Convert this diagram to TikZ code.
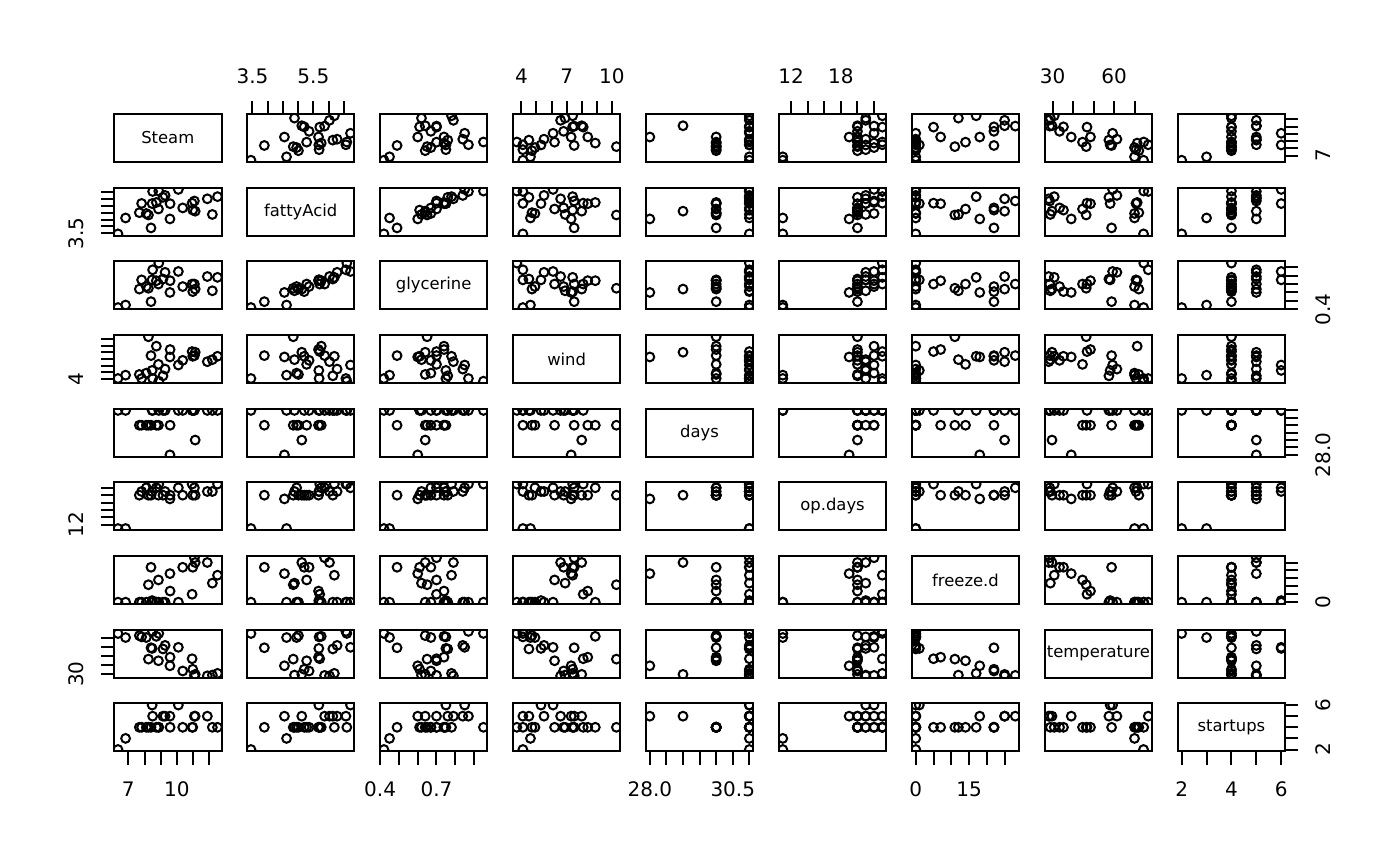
\documentclass[tikz,border=0pt]{standalone}
\usepackage{fontspec}
\setmainfont{DejaVu Sans}

% one month per line: Steam, fattyAcid, glycerine, wind, days, op.days, freeze.d, temperature, startups
\def\steamdata{%
{10.98,5.20,0.61,7.4,31,20,22,35.3,4},{11.13,5.12,0.64,8.0,29,20,25,29.7,5},%
{12.51,6.19,0.78,7.4,31,23,17,30.8,4},{8.40,3.89,0.49,7.5,30,20,22,58.8,4},%
{9.27,6.28,0.84,5.5,31,21,0,61.4,5},{8.73,5.76,0.74,8.9,30,22,0,71.3,4},%
{6.36,3.45,0.42,4.1,31,11,0,74.4,2},{8.50,6.57,0.87,4.1,31,23,0,76.7,5},%
{7.82,5.69,0.75,4.1,30,21,0,70.7,4},{9.14,6.14,0.76,4.5,31,20,0,57.5,5},%
{8.24,4.84,0.65,10.3,30,20,11,46.4,4},{12.19,4.88,0.62,6.9,31,21,12,28.9,4},%
{11.88,6.03,0.79,6.6,31,21,25,28.1,5},{9.57,4.55,0.60,7.3,28,19,18,39.1,5},%
{10.94,5.71,0.70,8.1,31,23,5,46.8,4},{9.58,5.67,0.74,8.4,30,20,7,48.5,4},%
{10.09,6.72,0.85,6.1,31,22,0,59.3,6},{8.11,4.95,0.67,4.9,30,22,0,70.0,4},%
{6.83,4.62,0.45,4.6,31,11,0,70.0,3},{8.88,6.60,0.95,3.7,31,23,0,74.5,4},%
{7.68,5.01,0.64,4.7,30,20,0,72.1,4},{8.47,5.68,0.75,5.3,31,21,1,58.1,6},%
{8.86,5.28,0.70,6.2,30,20,14,44.6,4},{10.36,5.36,0.67,6.8,31,20,22,33.4,4},%
{11.08,5.87,0.70,7.5,31,22,28,28.6,5}}
\def\mins{6.36,3.45,0.42,3.7,28,11,0,28.1,2}
\def\maxs{12.51,6.72,0.95,10.3,31,23,28,76.7,6}
\def\names{Steam,fattyAcid,glycerine,wind,days,op.days,freeze.d,temperature,startups}

\begin{document}
\begin{tikzpicture}[x=1pt,y=-1pt,
  panel/.style={draw,line width=2pt,inner sep=0pt,outer sep=0pt,
    minimum width=107.5pt,minimum height=48pt},
  dot/.style={line width=2pt},
  tick/.style={line width=2pt},
  axlab/.style={inner sep=0pt,font=\fontsize{20}{24}\selectfont},
  varlab/.style={font=\fontsize{16.4}{20}\selectfont}]
\fill[white] (0,0) rectangle (1400,866);
\useasboundingbox (0,0) rectangle (1400,866);

% scatter panels
\foreach \r in {1,...,9}{
  \foreach \c in {1,...,9}{
    \pgfmathsetmacro\px{114+132.96*(\c-1)}
    \pgfmathsetmacro\py{114+73.66*(\r-1)}
    \ifnum\r=\c\relax\else
      \pgfmathsetmacro\xmn{{\mins}[\c-1]}
      \pgfmathsetmacro\xmx{{\maxs}[\c-1]}
      \pgfmathsetmacro\xlo{\xmn-0.04*(\xmx-\xmn)}
      \pgfmathsetmacro\xs{107.5/(1.08*(\xmx-\xmn))}
      \pgfmathsetmacro\ymn{{\mins}[\r-1]}
      \pgfmathsetmacro\ymx{{\maxs}[\r-1]}
      \pgfmathsetmacro\ylo{\ymn-0.04*(\ymx-\ymn)}
      \pgfmathsetmacro\ys{48/(1.08*(\ymx-\ymn))}
      \begin{scope}
        \clip (\px,\py) rectangle ++(107.5,48);
        \foreach \obs in \steamdata {
          \pgfmathsetmacro\xx{\px+({\obs}[\c-1]-\xlo)*\xs}
          \pgfmathsetmacro\yy{\py+48-({\obs}[\r-1]-\ylo)*\ys}
          \draw[dot] (\xx,\yy) circle[radius=4.4pt];
        }
      \end{scope}
      \node[panel] (p\r-\c) at (\px+53.75,\py+24) {};
    \fi
  }
}

% diagonal: variable names
\foreach \nm [count=\c] in \names{
  \pgfmathsetmacro\px{114+132.96*(\c-1)}
  \pgfmathsetmacro\py{114+73.66*(\c-1)}
  \node[panel] (p\c-\c) at (\px+53.75,\py+24) {};
  \node[varlab] (v\c) at (p\c-\c) {\nm};
}

% axes: ticks / labels along x (column) / labels along y (row)
\foreach \c/\tk/\hl/\vl in {%
  1/{7,8,9,10,11,12}/{7,10}/{7},
  2/{3.5,4,4.5,5,5.5,6,6.5}/{3.5,5.5}/{3.5},
  3/{0.4,0.5,0.6,0.7,0.8,0.9}/{0.4,0.7}/{0.4},
  4/{4,5,6,7,8,9,10}/{4,7,10}/{4},
  5/{28,28.5,29,29.5,30,30.5,31}/{28.0,30.5}/{28.0},
  6/{12,14,16,18,20,22}/{12,18}/{12},
  7/{0,5,10,15,20,25}/{0,15}/{0},
  8/{30,40,50,60,70}/{30,60}/{30},
  9/{2,3,4,5,6}/{2,4,6}/{2,6}}{
  \pgfmathsetmacro\mn{{\mins}[\c-1]}
  \pgfmathsetmacro\mx{{\maxs}[\c-1]}
  \pgfmathsetmacro\lo{\mn-0.04*(\mx-\mn)}
  \pgfmathsetmacro\hs{107.5/(1.08*(\mx-\mn))}
  \pgfmathsetmacro\vs{48/(1.08*(\mx-\mn))}
  \pgfmathsetmacro\px{114+132.96*(\c-1)}
  \pgfmathsetmacro\py{114+73.66*(\c-1)}
  \ifodd\c\relax
    \foreach \t in \tk{
      \draw[tick] ({\px+(\t-\lo)*\hs},751.3) -- ++(0,13.2);
      \draw[tick] (1285.2,{\py+48-(\t-\lo)*\vs}) -- ++(13.2,0);
    }
    \foreach \l [count=\n] in \hl
      \node[axlab] (b\c-\n) at ({\px+(\l-\lo)*\hs},789.3) {\l};
    \foreach \l [count=\n] in \vl
      \node[axlab,rotate=90] (r\c-\n) at (1323.2,{\py+48-(\l-\lo)*\vs}) {\l};
  \else
    \foreach \t in \tk{
      \draw[tick] ({\px+(\t-\lo)*\hs},114) -- ++(0,-13.2);
      \draw[tick] (114,{\py+48-(\t-\lo)*\vs}) -- ++(-13.2,0);
    }
    \foreach \l [count=\n] in \hl
      \node[axlab] (t\c-\n) at ({\px+(\l-\lo)*\hs},76) {\l};
    \foreach \l [count=\n] in \vl
      \node[axlab,rotate=90] (l\c-\n) at (76,{\py+48-(\l-\lo)*\vs}) {\l};
  \fi
}
\end{tikzpicture}
\end{document}
